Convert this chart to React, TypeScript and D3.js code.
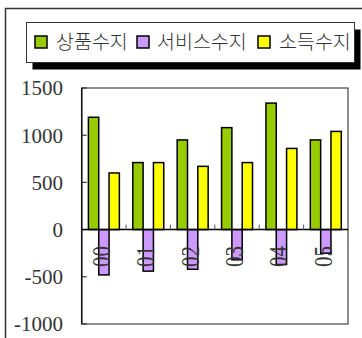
import React from "react";
import * as d3 from "d3";

const categories = ["00", "01", "02", "03", "04", "05"];
const seriesNames = ["상품수지", "서비스수지", "소득수지"];
const goods = [1190, 710, 950, 1080, 1340, 950];
const services = [-480, -440, -420, -320, -370, -250];
const income = [600, 710, 670, 710, 860, 1040];
const yTicks = [-1000, -500, 0, 500, 1000, 1500];
const colors = ["#99CC00", "#CC99FF", "#FFFF00"];

export default function App() {
  const W = 362, H = 338;
  const left = 81.7, right = 348, top = 88, bottom = 324;
  const y = d3.scaleLinear().domain([-1000, 1500]).range([bottom, top]);
  const x = d3.scaleBand<string>().domain(categories).range([left, right]).paddingInner(0).paddingOuter(0);
  const gw = x.bandwidth();
  const bw = gw / (3 + 1.3);
  const inner = d3.scaleBand<number>().domain([0, 1, 2]).range([(gw - 3 * bw) / 2, (gw + 3 * bw) / 2]);
  const series = [goods, services, income];
  const y0 = y(0);

  const legendItems = [
    { sq: 35, tx: 56 },
    { sq: 137, tx: 157 },
    { sq: 258, tx: 279 },
  ];

  return (
    <div style={{ position: "fixed", left: 0, top: 0 }}>
      <svg width={W} height={H} style={{ display: "block", background: "#fff" }}>
        {/* outer frame */}
        <path d={`M5.5,${H + 5} V8.5 H${W + 5}`} fill="none" stroke="#333" strokeWidth={1.5} />

        {/* legend */}
        <rect x={32.5} y={29.5} width={328} height={40} fill="#000" />
        <rect x={26.5} y={22.5} width={328} height={40} fill="#fff" stroke="#333" strokeWidth={1} />
        {seriesNames.map((n, i) => (
          <g key={n}>
            <rect x={legendItems[i].sq} y={36} width={12} height={12} fill={colors[i]} stroke="#000" strokeWidth={1.5} />
            <text
              x={legendItems[i].tx}
              y={49}
              fontFamily="'Noto Sans CJK KR', sans-serif"
              fontSize={19.5}
              fontWeight={300}
              fill="#333"
            >
              {n}
            </text>
          </g>
        ))}

        {/* plot frame */}
        <rect x={left} y={top} width={right - left} height={bottom - top} fill="none" stroke="#444" strokeWidth={1.2} />
        <line x1={left} y1={top} x2={left} y2={bottom} stroke="#111" strokeWidth={1.5} />

        {/* y ticks */}
        {yTicks.map((t) => (
          <g key={t}>
            <line x1={left} x2={left + 5} y1={y(t)} y2={y(t)} stroke="#333" strokeWidth={1.2} />
            <text
              x={63}
              y={y(t)}
              dy="0.35em"
              textAnchor="end"
              fontFamily="'Liberation Serif', serif"
              fontSize={21}
              fill="#333"
            >
              {t}
            </text>
          </g>
        ))}

        {/* bars */}
        {categories.map((c, ci) => (
          <g key={c} transform={`translate(${x(c)},0)`}>
            {series.map((s, si) => {
              const v = s[ci];
              const yy = Math.min(y(v), y0);
              const h = Math.abs(y(v) - y0);
              return (
                <rect
                  key={si}
                  x={inner(si)}
                  y={yy}
                  width={bw}
                  height={h}
                  fill={colors[si]}
                  stroke="#000"
                  strokeWidth={1.5}
                />
              );
            })}
          </g>
        ))}

        {/* zero axis */}
        <line x1={left} x2={right} y1={y0} y2={y0} stroke="#000" strokeWidth={1.5} />
        {categories.map((c, ci) =>
          ci === 0 ? null : (
            <line key={c} x1={x(c)} x2={x(c)} y1={y0} y2={y0 - 5} stroke="#555" strokeWidth={1} />
          )
        )}

        {/* category labels */}
        {categories.map((c) => {
          const cx = (x(c) as number) + gw / 2 + 6;
          const ly = 246;
          return (
            <text
              key={c}
              transform={`translate(${cx},${ly}) rotate(-90) scale(1,1.2)`}
              textAnchor="end"
              fontFamily="'Liberation Serif', serif"
              fontSize={21}
              fill="#333"
            >
              {c}
            </text>
          );
        })}
      </svg>
    </div>
  );
}
